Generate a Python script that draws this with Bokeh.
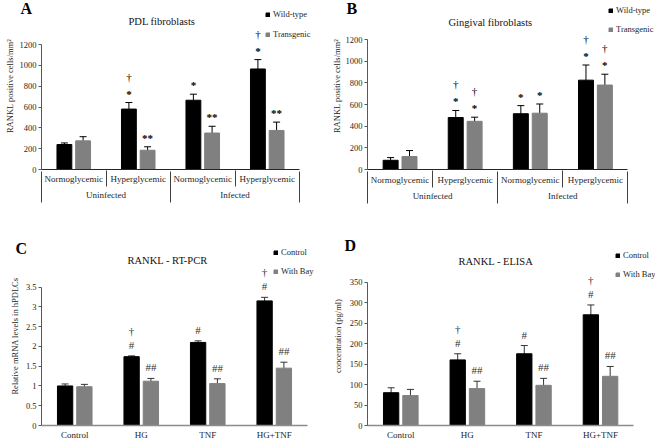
import numpy as np
from bokeh.plotting import figure
from bokeh.models import (ColumnDataSource, Range1d, FixedTicker, LinearAxis, Whisker,
                          TeeHead, Legend, LegendItem, Label, Title)
from bokeh.layouts import gridplot
from bokeh.embed import file_html
from bokeh.resources import INLINE
from bokeh.core.properties import value

FONT = "Liberation Serif"

# ---------------- data ----------------
subgroups_AB = ["Normoglycemic", "Hyperglycemic", "Normoglycemic", "Hyperglycemic"]
groups_AB = ["Uninfected", "Infected"]
series_AB = ["Wild-type", "Transgenic"]

A_wt = [240, 580, 665, 965]
A_wt_err = [15, 63, 58, 90]
A_tg = [275, 185, 350, 375]
A_tg_err = [40, 33, 65, 80]
A_wt_sig = ["", "*", "*", "*"]
A_wt_dag = ["", "†", "", "†"]
A_tg_sig = ["", "**", "**", "**"]
A_tg_dag = ["", "", "", ""]

B_wt = [85, 480, 515, 825]
B_wt_err = [25, 65, 75, 140]
B_tg = [120, 445, 520, 780]
B_tg_err = [55, 38, 85, 100]
B_wt_sig = ["", "*", "*", "*"]
B_wt_dag = ["", "†", "", "†"]
B_tg_sig = ["", "*", "*", "*"]
B_tg_dag = ["", "†", "", "†"]

cats_CD = ["Control", "HG", "TNF", "HG+TNF"]
series_CD = ["Control", "With Bay"]

C_ctl = [1.0, 1.74, 2.1, 3.15]
C_ctl_err = [0.05, 0.02, 0.04, 0.09]
C_bay = [0.98, 1.12, 1.06, 1.45]
C_bay_err = [0.06, 0.07, 0.12, 0.15]
C_ctl_sig = ["", "#", "#", "#"]
C_ctl_dag = ["", "†", "", "†"]
C_bay_sig = ["", "##", "##", "##"]
C_bay_dag = ["", "", "", ""]

D_ctl = [80, 160, 175, 270]
D_ctl_err = [12, 15, 20, 24]
D_bay = [73, 90, 98, 120]
D_bay_err = [15, 18, 17, 24]
D_ctl_sig = ["", "#", "#", "#"]
D_ctl_dag = ["", "†", "", "†"]
D_bay_sig = ["", "##", "##", "##"]
D_bay_dag = ["", "", "", ""]

A_yticks = [0, 200, 400, 600, 800, 1000, 1200]
B_yticks = [0, 200, 400, 600, 800, 1000, 1200]
C_yticks = [0, 0.5, 1, 1.5, 2, 2.5, 3, 3.5]
D_yticks = [0, 50, 100, 150, 200, 250, 300, 350]

BLACK = "#000000"
GRAY = "#808080"
OFF = 0.145
BW = 0.23
NCAT = 4


def base_fig(w, h, bl, bt, bb, ymax, yextra, xextra, yticks, ylabel, ylab_standoff):
    p = figure(width=w, height=h, x_range=Range1d(0, NCAT * xextra),
               y_range=Range1d(0, ymax * yextra),
               output_backend="svg", toolbar_location=None, tools="",
               min_border=0, min_border_left=bl, min_border_right=0,
               min_border_top=bt, min_border_bottom=bb)
    p.outline_line_color = None
    p.grid.visible = False
    ya = p.yaxis[0]
    ya.bounds = (0, ymax)
    ya.ticker = FixedTicker(ticks=yticks, minor_ticks=[])
    ya.major_label_overrides = {t: ("%g" % t) for t in yticks}
    ya.major_tick_out = 3
    ya.major_tick_in = 0
    ya.major_tick_line_color = "#595959"
    ya.axis_line_color = "#595959"
    ya.major_label_standoff = 2
    ya.major_label_text_font = FONT
    ya.major_label_text_font_size = "8.5px"
    ya.major_label_text_color = "#262626"
    ya.axis_label = ylabel
    ya.axis_label_standoff = ylab_standoff
    ya.axis_label_text_font = FONT
    ya.axis_label_text_font_size = "8.5px"
    ya.axis_label_text_font_style = "normal"
    ya.axis_label_text_color = "#262626"
    return p


def add_bars(p, v1, e1, v2, e2, sig1, dag1, sig2, dag2, names, err_col, sym_col,
             legend_xy, lab_h, sig_off, dag_off, sig_style):
    idx = np.arange(len(v1))
    rends = []
    for vals, errs, sig, dag, col, sgn in [(v1, e1, sig1, dag1, BLACK, -1),
                                           (v2, e2, sig2, dag2, GRAY, 1)]:
        vals = np.asarray(vals, dtype=float)
        errs = np.asarray(errs, dtype=float)
        src = ColumnDataSource(dict(x=idx + 0.5 + sgn * OFF, top=vals,
                                    upper=vals + errs, lower=vals - errs,
                                    sig=sig, dag=dag))
        r = p.vbar(x="x", top="top", width=BW, source=src, fill_color=col, line_color=col)
        rends.append(r)
        p.add_layout(Whisker(source=src, base="x", upper="upper", lower="lower",
                             line_color=err_col, line_width=1,
                             upper_head=TeeHead(size=7, line_color=err_col, line_width=1),
                             lower_head=TeeHead(size=7, line_color=err_col, line_width=1)))
        p.text(x="x", y="upper", text="sig", source=src, text_align="center",
               text_baseline="bottom", y_offset=sig_off, text_font=value(FONT),
               text_font_size="11px", text_font_style=sig_style, text_color=sym_col)
        p.text(x="x", y="upper", text="dag", source=src, text_align="center",
               text_baseline="bottom", y_offset=dag_off, text_font=value(FONT),
               text_font_size="11px", text_color=sym_col)
    leg = Legend(items=[LegendItem(label=names[0], renderers=[rends[0]]),
                        LegendItem(label=names[1], renderers=[rends[1]])],
                 location=legend_xy, orientation="vertical", glyph_width=5, glyph_height=5,
                 label_height=lab_h, label_standoff=3, spacing=0, padding=0, margin=0,
                 border_line_color=None, background_fill_alpha=0,
                 label_text_font=FONT, label_text_font_size="8.5px",
                 label_text_color="#262626")
    p.add_layout(leg)


def add_texts(p, letter, loff, lstand, title, txy):
    p.title = Title(text=letter, align="left", offset=loff, standoff=lstand,
                    vertical_align="bottom", text_font=FONT, text_font_size="16px",
                    text_font_style="bold", text_color="#000000")
    p.add_layout(Label(x=txy[0], y=txy[1], x_units="screen", y_units="screen", text=title,
                       text_font=FONT, text_font_size="10.5px",
                       text_baseline="middle", text_align="left", text_color="#111111"))


def multilevel_xaxis(p, sub_labels, grp_labels, st1, st2, div_in1, div_in2):
    n = len(sub_labels)
    xa = p.xaxis[0]
    xa.bounds = (0, n)
    xa.ticker = FixedTicker(ticks=[i + 0.5 for i in range(n)], minor_ticks=[])
    xa.major_label_overrides = {i + 0.5: s for i, s in enumerate(sub_labels)}
    xa.major_tick_line_color = None
    xa.major_tick_out = 0
    xa.major_tick_in = 0
    xa.minor_tick_line_color = None
    xa.axis_line_color = "#262626"
    xa.major_label_standoff = st1
    xa.major_label_text_font = FONT
    xa.major_label_text_font_size = "9px"
    xa.major_label_text_color = "#262626"
    # group labels; its ticks (pointing up) are the sub-group dividers
    ax2 = LinearAxis(ticker=FixedTicker(ticks=[1, 3], minor_ticks=[]), bounds=(0, n))
    ax2.major_label_overrides = {1: grp_labels[0], 3: grp_labels[1]}
    ax2.axis_line_color = None
    ax2.major_tick_line_color = "#404040"
    ax2.major_tick_out = 0
    ax2.major_tick_in = div_in1
    ax2.minor_tick_line_color = None
    ax2.major_label_standoff = st2
    ax2.major_label_text_font = FONT
    ax2.major_label_text_font_size = "9px"
    ax2.major_label_text_color = "#262626"
    p.add_layout(ax2, "below")
    # group dividers
    ax3 = LinearAxis(ticker=FixedTicker(ticks=[0, 2, 4], minor_ticks=[]), bounds=(0, n))
    ax3.major_label_overrides = {0: "", 2: "", 4: ""}
    ax3.major_label_text_font_size = "0px"
    ax3.major_label_standoff = 0
    ax3.axis_line_color = None
    ax3.major_tick_line_color = "#404040"
    ax3.major_tick_out = 0
    ax3.major_tick_in = div_in2
    ax3.minor_tick_line_color = None
    p.add_layout(ax3, "below")


def simple_xaxis(p, labels, st):
    n = len(labels)
    xa = p.xaxis[0]
    xa.bounds = (0, n)
    xa.ticker = FixedTicker(ticks=[i + 0.5 for i in range(n)], minor_ticks=[])
    xa.major_label_overrides = {i + 0.5: s for i, s in enumerate(labels)}
    xa.major_tick_line_color = None
    xa.minor_tick_line_color = None
    xa.major_tick_out = 0
    xa.major_tick_in = 0
    xa.axis_line_color = "#8c8c8c"
    xa.axis_line_width = 1.5
    xa.major_label_standoff = st
    xa.major_label_text_font = FONT
    xa.major_label_text_font_size = "9px"
    xa.major_label_text_color = "#262626"


# ---------------- Panel A ----------------
pA = base_fig(328, 221, 41, 2, 52, 1200, 167 / 125, 287 / 258, A_yticks,
              "RANKL positive cells/mm²", 2)
add_bars(pA, A_wt, A_wt_err, A_tg, A_tg_err, A_wt_sig, A_wt_dag, A_tg_sig, A_tg_dag,
         series_AB, "#000000", "#000000", (224, 125), 20, -3, -20, "bold")
multilevel_xaxis(pA, subgroups_AB, groups_AB, 4, 3, 16, 31)
add_texts(pA, "A", -21, -29, "PDL fibroblasts", (87, 148))

# ---------------- Panel B ----------------
pB = base_fig(327, 221, 34, 2, 50, 1200, 169 / 131.5, 293 / 265, B_yticks,
              "RANKL positive cells/mm²", 1)
add_bars(pB, B_wt, B_wt_err, B_tg, B_tg_err, B_wt_sig, B_wt_dag, B_tg_sig, B_tg_dag,
         series_AB, "#000000", "#000000", (241, 130.5), 19, -3, -20, "bold")
multilevel_xaxis(pB, subgroups_AB, groups_AB, 5, 3, 17, 32)
add_texts(pB, "B", -21, -29, "Gingival fibroblasts", (81, 147))

# ---------------- Panel C ----------------
pC = base_fig(328, 221, 41, 23, 17, 3.5, 181 / 140, 287 / 266, C_yticks,
              "Relative mRNA levels in hPDLCs", 3)
add_bars(pC, C_ctl, C_ctl_err, C_bay, C_bay_err, C_ctl_sig, C_ctl_dag, C_bay_sig, C_bay_dag,
         series_CD, "#333333", "#333333", (232, 144.5), 19, -5, -19, "normal")
simple_xaxis(pC, cats_CD, 4)
add_texts(pC, "C", -26, -20, "RANKL - RT-PCR", (86, 165))

# ---------------- Panel D ----------------
pD = base_fig(327, 221, 35, 25, 17, 350, 179 / 143.5, 292 / 270, D_yticks,
              "concentration (pg/ml)", 4)
add_bars(pD, D_ctl, D_ctl_err, D_bay, D_bay_err, D_ctl_sig, D_ctl_dag, D_bay_sig, D_bay_dag,
         series_CD, "#333333", "#333333", (248, 141.5), 19, -5, -19, "normal")
simple_xaxis(pD, cats_CD, 4)
add_texts(pD, "D", -23, -15, "RANKL - ELISA", (91, 164))

grid = gridplot([[pA, pB], [pC, pD]], toolbar_location=None)
open("out.html", "w").write(file_html(grid, INLINE))
